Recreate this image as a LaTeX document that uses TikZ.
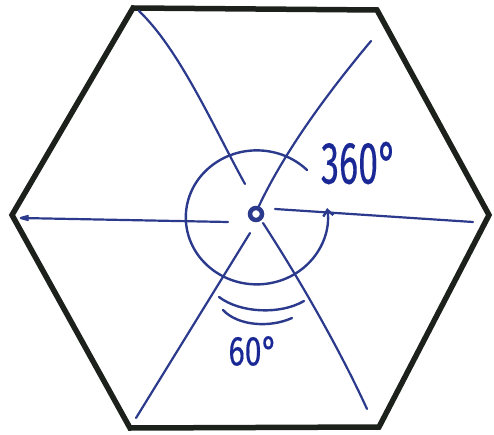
\documentclass[tikz,border=0pt]{standalone}
\usepackage{fontspec}
\setmainfont{Fira Sans}
\usetikzlibrary{arrows.meta}
\definecolor{hexcol}{HTML}{1C211C}
\definecolor{pen}{HTML}{2B3A8C}
\definecolor{ink}{HTML}{1A2896}
\tikzset{
  hexline/.style={draw=hexcol, line width=5.5pt, line join=miter},
  ray/.style={draw=pen, line width=2.2pt, line cap=round},
  penarc/.style={draw=pen, line width=2.4pt, line cap=round},
  hand/.style={text=ink, inner sep=0pt}
}
\begin{document}
\begin{tikzpicture}[x=1pt,y=-1pt]
\useasboundingbox (0,0) rectangle (494,435);
% hexagon vertices
\coordinate (tl) at (133,8);
\coordinate (tr) at (377,10);
\coordinate (r) at (489,215);
\coordinate (br) at (379,427);
\coordinate (bl) at (130,428);
\coordinate (l) at (12,215);
\coordinate (c) at (256,214);
\draw[hexline] (tl) -- (tr) -- (r) -- (br) -- (bl) -- (l) -- cycle;
% ray ends
\coordinate (tlA) at (245,184);
\coordinate (tlB) at (139,11);
\coordinate (trA) at (258,208);
\coordinate (trB) at (371,41);
\coordinate (rA) at (275,209);
\coordinate (rB) at (473,222);
\coordinate (lA) at (228,222);
\coordinate (lB) at (21,218);
\coordinate (blA) at (250,233);
\coordinate (blB) at (136,418);
\coordinate (brA) at (263,223);
\coordinate (brB) at (367,409);
\draw[ray] (tlA) .. controls (215,130) and (180,50) .. (tlB);
\draw[ray] (trA) .. controls (285,150) and (330,90) .. (trB);
\draw[ray] (rA) -- (rB);
\draw[ray] (lA) -- (lB);
\draw[ray] (lB) -- ++(7,-2) (lB) -- ++(7,2);
\draw[ray] (blA) -- (blB);
\draw[ray] (brA) .. controls (300,280) and (340,350) .. (brB);
% centre dot
\node[circle, draw=pen, fill=white, line width=4.5pt, minimum size=12pt, inner sep=0pt] (dot) at (c) {};
% 360 arrow arc
\coordinate (arcS) at (307,170);
\draw[penarc, -{Straight Barb[length=6pt,width=10pt]}] (arcS) arc[start angle=45, end angle=368, x radius=71pt, y radius=67pt];
% 60 arcs
\coordinate (m1a) at (219,297);
\coordinate (m1b) at (304,301);
\coordinate (m2a) at (223,310);
\coordinate (m2b) at (292,318);
\draw[penarc] (m1a) .. controls (240,313) and (280,315) .. (m1b);
\draw[penarc] (m2a) .. controls (238,326) and (270,328) .. (m2b);
% labels
\node[hand, font=\fontsize{46}{46}\selectfont\addfontfeature{FakeBold=0.3}, xscale=0.78, yscale=1.3] (t360) at (359,163) {360°};
\node[hand, font=\fontsize{38}{38}\selectfont\addfontfeature{FakeBold=0.3}, xscale=0.8, yscale=1.1] (t60) at (253,351) {60°};
\end{tikzpicture}
\end{document}
